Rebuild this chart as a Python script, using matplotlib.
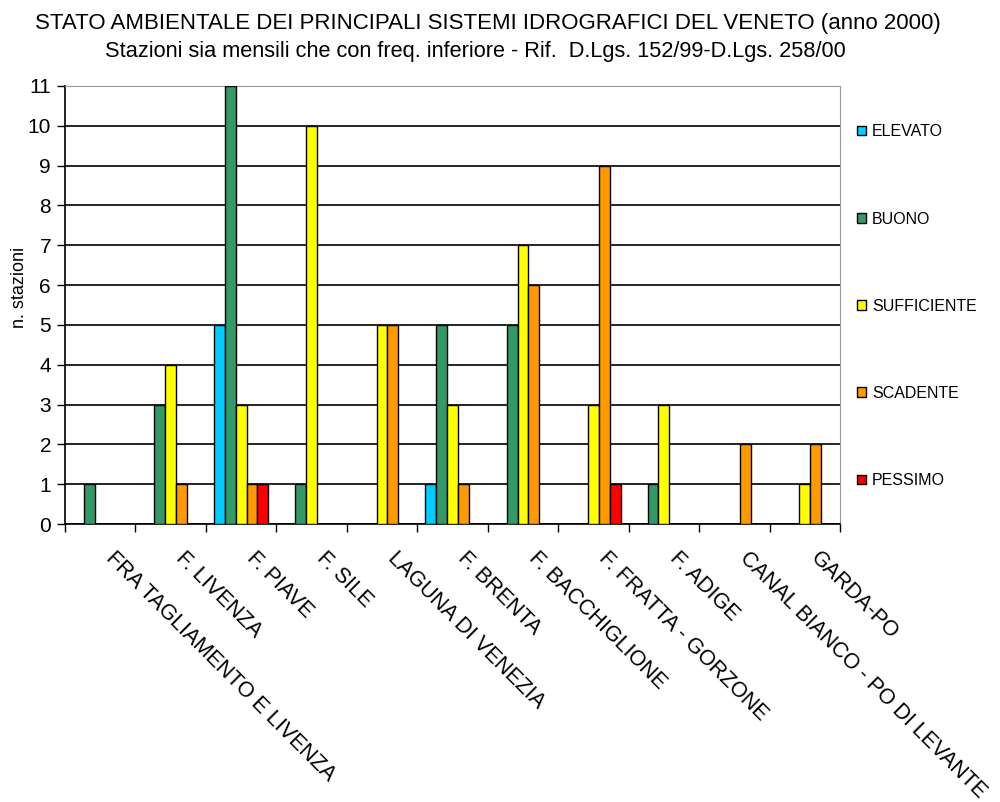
import numpy as np
import matplotlib.pyplot as plt
from matplotlib.patches import Patch
from matplotlib.transforms import ScaledTranslation

plt.rcParams['font.family'] = ['Liberation Sans', 'DejaVu Sans']

# categorie (sistemi idrografici)
categorie = ['FRA TAGLIAMENTO E LIVENZA', 'F. LIVENZA', 'F. PIAVE', 'F. SILE',
             'LAGUNA DI VENEZIA', 'F. BRENTA', 'F. BACCHIGLIONE',
             'F. FRATTA - GORZONE', 'F. ADIGE', 'CANAL BIANCO - PO DI LEVANTE',
             'GARDA-PO']

# numero di stazioni per classe
elevato = [0, 0, 5, 0, 0, 1, 0, 0, 0, 0, 0]
buono = [1, 3, 11, 1, 0, 5, 5, 0, 1, 0, 0]
sufficiente = [0, 4, 3, 10, 5, 3, 7, 3, 3, 0, 1]
scadente = [0, 1, 1, 0, 5, 1, 6, 9, 0, 2, 2]
pessimo = [0, 0, 1, 0, 0, 0, 0, 1, 0, 0, 0]

serie = [elevato, buono, sufficiente, scadente, pessimo]
nomi = ['ELEVATO', 'BUONO', 'SUFFICIENTE', 'SCADENTE', 'PESSIMO']
colori = ['#00CCFF', '#339966', '#FFFF00', '#FF9900', '#FF0000']

fig = plt.figure(figsize=(10, 8.02), dpi=100)
ax = fig.add_axes([0.065, 0.3466, 0.775, 0.5462])

n = len(categorie)
x = np.arange(n)
w = 1 / 6.5  # gap 150% come Excel
for i, (vals, col) in enumerate(zip(serie, colori)):
    ax.bar(x + 0.5 + (i - 2) * w, vals, width=w, color=col,
           edgecolor='black', linewidth=1.0, zorder=3)

ax.set_xlim(0, n)
ax.set_ylim(0, 11)
ax.set_yticks(range(0, 12))
ax.yaxis.grid(True, color='black', linewidth=1.2, zorder=0)
ax.set_axisbelow(True)

# tacche tra le categorie, etichette al centro
ax.set_xticks(np.arange(0, n + 1))
ax.set_xticklabels([])
ax.set_xticks(x + 0.5, minor=True)
ax.set_xticklabels(categorie, minor=True, rotation=-45, ha='left', va='top',
                   rotation_mode='anchor', fontsize=15.5)
ax.tick_params(axis='x', which='major', length=6, width=1.0, direction='out')
ax.tick_params(axis='x', which='minor', length=0, pad=17)
ax.tick_params(axis='y', length=6, width=1.0, labelsize=15, pad=4)
off = ScaledTranslation(16 / 100, 0, fig.dpi_scale_trans)
for lab in ax.get_xticklabels(minor=True):
    lab.set_transform(lab.get_transform() + off)

for s in ['top', 'right']:
    ax.spines[s].set_color('#999999')
for s in ['left', 'bottom']:
    ax.spines[s].set_color('black')
    ax.spines[s].set_linewidth(1.2)

fig.text(0.02, 0.641, 'n. stazioni', rotation=90, ha='center', va='center',
         fontsize=13)

fig.text(0.4875, 0.971, 'STATO AMBIENTALE DEI PRINCIPALI SISTEMI IDROGRAFICI '
         'DEL VENETO (anno 2000)', ha='center', va='center', fontsize=16)
fig.text(0.4755, 0.936, 'Stazioni sia mensili che con freq. inferiore - Rif.  '
         'D.Lgs. 152/99-D.Lgs. 258/00', ha='center', va='center', fontsize=15.7)

handles = [Patch(facecolor=c, edgecolor='black', linewidth=1.0) for c in colori]
fig.legend(handles, nomi, loc='upper left', bbox_to_anchor=(0.857, 0.845),
           frameon=False, fontsize=11.5, handlelength=0.55, handleheight=0.55,
           handletextpad=0.4, labelspacing=4.52, borderpad=0, borderaxespad=0)

fig.savefig('out.png', dpi=100)
